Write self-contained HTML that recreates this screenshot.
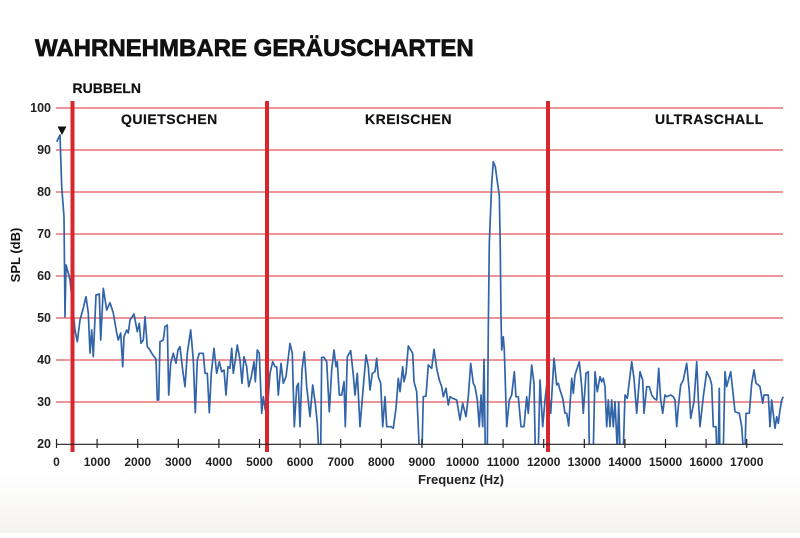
<!DOCTYPE html>
<html><head><meta charset="utf-8"><style>
html,body{margin:0;padding:0;}
body{width:800px;height:533px;overflow:hidden;background:#fff;font-family:"Liberation Sans",sans-serif;}
</style></head><body>
<svg width="800" height="533" viewBox="0 0 800 533" xmlns="http://www.w3.org/2000/svg">
<defs>
<linearGradient id="bg" x1="0" y1="0" x2="0" y2="1">
<stop offset="0" stop-color="#ffffff"/>
<stop offset="1" stop-color="#f5f3f1"/>
</linearGradient>
<clipPath id="clip"><rect x="50" y="100" width="740" height="344.5"/></clipPath>
</defs>
<rect x="0" y="0" width="800" height="533" fill="#fff"/>
<rect x="0" y="475" width="800" height="58" fill="url(#bg)"/>
<text x="35" y="56" font-family="Liberation Sans, sans-serif" font-weight="bold" font-size="24" fill="#111" stroke="#111" stroke-width="0.7">WAHRNEHMBARE GERÄUSCHARTEN</text>
<text x="72.5" y="93" font-weight="bold" font-size="14" fill="#111" stroke="#111" stroke-width="0.2">RUBBELN</text>
<text x="121" y="124" font-weight="bold" font-size="14" letter-spacing="0.5" fill="#111" stroke="#111" stroke-width="0.2">QUIETSCHEN</text>
<text x="365" y="124" font-weight="bold" font-size="14" letter-spacing="0.5" fill="#111" stroke="#111" stroke-width="0.2">KREISCHEN</text>
<text x="655" y="124" font-weight="bold" font-size="14" letter-spacing="0.5" fill="#111" stroke="#111" stroke-width="0.2">ULTRASCHALL</text>
<g stroke="#e0585c" stroke-width="1.2">
<line x1="56" y1="108" x2="783" y2="108"/>
<line x1="56" y1="150" x2="783" y2="150"/>
<line x1="56" y1="192" x2="783" y2="192"/>
<line x1="56" y1="234" x2="783" y2="234"/>
<line x1="56" y1="276" x2="783" y2="276"/>
<line x1="56" y1="318" x2="783" y2="318"/>
<line x1="56" y1="360" x2="783" y2="360"/>
<line x1="56" y1="402" x2="783" y2="402"/>
</g>
<g font-weight="bold" font-size="12.5" fill="#222" text-anchor="end">
<text x="51" y="112">100</text>
<text x="51" y="154">90</text>
<text x="51" y="196">80</text>
<text x="51" y="238">70</text>
<text x="51" y="280">60</text>
<text x="51" y="322">50</text>
<text x="51" y="364">40</text>
<text x="51" y="406">30</text>
<text x="51" y="448">20</text>
</g>
<text transform="translate(20,255) rotate(-90)" text-anchor="middle" font-weight="bold" font-size="13" fill="#111">SPL (dB)</text>
<polyline clip-path="url(#clip)" fill="none" stroke="#3264a8" stroke-width="1.7" stroke-linejoin="round" points="
56.7,141.7 60,135 61.7,186.7 64,216.7 65,316.7 66,265 68.3,273 70,280 72.7,306.7 75,330 77.3,341.7 80,320 83.3,308 86,296.7 88.3,313 90,353 91.7,330 93.3,356.7 96,295 99.3,294 100.7,340 103.3,288.3 106.7,310 110,302.7 113.3,313 116.7,333 118.3,340 120.7,333 122.7,366.7 124,336.7 126.7,330 128.3,333 130,320 134,314 137.3,331.7 139.3,323.3 141,343.3 143.3,340 145,316.7 147.3,346.7 150,350 151.7,353.3 156,359.3 157.3,400 158.7,400 160,341.7 163.3,340 165,326.7 167.3,325 168.7,395 170.7,363.3 173.3,353.3 176,363.3 178,350 180,346.7 182.7,370 185,386.7 187.3,353.3 190.7,330 193.3,360 195.3,412.7 197.3,360 199.3,353.3 203.3,353.3 205,373.3 207.3,373.3 209.3,412.7 211.3,373.3 214,348.3 216.7,373.3 219.3,361.7 221.7,371.7 224,370 226,395 228,366.7 230,368.3 231.7,348.3 233.3,373.3 235.3,360 237.3,345 240,360 242,383.3 244,356.7 246.7,366.7 248.7,386.7 251.3,376.7 254,361.7 255.3,381.7 257.3,350 259.3,353.3 261.7,413.3 263.3,396.7 265.3,410 267.3,410 270,373.3 272.7,361.7 275,366.7 276.7,366.7 278.3,395 281,363.3 283.3,383.3 286,376.7 290,343.3 292.3,353.3 294.3,426.7 296.7,386.7 298.3,383.3 300,426.7 302,370 304.3,351.7 306.7,386.7 310,416.7 312.7,385 315.3,403.3 317.3,423.3 318.7,450 320.7,450 321.7,357.3 324,357.3 326.7,361.7 329.3,411.7 331.7,370 334,350 336,366.7 337.3,361.7 339.3,395 341.7,395 344,381.7 345.3,426.7 347.3,356.7 350.7,350.7 353.3,375 355,395 357.3,373.3 360,426.7 363.3,386.7 366,355 368.3,366.7 370,390 372.3,373.3 375,371.7 376.7,358.3 378.3,376.7 380.7,383.3 382.7,426.7 385,396.7 386.7,426.7 391,426.7 393.3,428.3 396,408.3 398.3,378.3 400,391.7 402.7,366.7 404,381.7 406,373.3 408.3,346 412.7,353.3 414,381.7 416.7,391.7 419.3,450 422,450 423.3,396.7 426,396 428.3,365 431.7,368.3 434,349.3 436.7,368.3 439.3,380 441.7,386.7 443.3,396.7 446,388.3 448.3,405 450,396.7 452.7,398.3 456.7,400 460,420 462.7,403.3 466,416.7 468.3,396.7 470.7,363.3 473.3,383.3 475,386.7 477.3,400 479.3,426.7 481,395 482.7,426.7 484,359.3 485.3,450 487.3,450 488.3,330 489.3,243.3 491.7,183.3 493.3,161.7 495.3,166.7 497.3,181.7 499.3,195 500.3,250 501,316.7 501.7,350 503.3,336.7 504.3,350 506.7,426.7 509.3,400 511.7,395 514.3,371.7 516,396.7 518.3,396.7 521,426.7 524,426.7 526.7,396.7 528.3,413.3 531.7,365 534,383.3 535.3,450 538.3,450 540,380 542.7,426.7 545,400 547.3,380 550.7,413.3 554,358.3 556.7,385 558.3,383.3 560,390 562.7,398.3 565,413.3 566.7,413.3 568.7,426 571.7,378.3 573.3,393.3 575,375 579.3,361.7 581.7,386.7 583.3,413.3 586,373.3 588.3,371.7 589.3,450 593.3,450 595,371.7 597.3,391.7 600,376.7 601.7,381.7 603.3,378.3 605,386.7 606.7,426.7 608.3,400 610,426.7 611.7,400 613.3,426.7 615,401.7 617.3,450 618.7,401.7 620,450 623.3,450 625,395 627.3,398.3 631.7,361.7 634,378.3 636.7,413.3 640,371.7 642.7,380 644,413.3 646.7,386.7 649.3,386.7 651.7,395 654,398.3 656.7,400 658.7,368.3 660.7,400 662.7,413.3 665,395 666.7,396.7 670.7,395 673.3,396.7 675,400 676.7,426.7 678.3,406.7 680.7,385 683.3,380 686.7,363.3 689.3,391.7 690.7,418.3 694,401.7 696.7,361.7 698.3,398.3 700,426.7 703.3,396.7 706.7,371.7 710,378.3 711.7,385 713.3,426.7 716,426.7 716.7,450 718.3,450 719.3,388.3 719.8,450 721.7,450 723.3,450 725,371.7 726.7,386.7 730.7,371.7 732.7,390 735,411.7 739.3,413.3 741.7,426.7 743.3,450 745,450 746,413.3 749.3,413.3 751.7,383.3 754,370 756,383.3 758.3,385 760,386.7 762.7,403.3 764,395 766.7,395 768.3,395 770,426.7 771.7,400 775,428.3 776.7,416.7 778.3,423.3 780,410 781.7,400 783.3,396.7"/>
<polygon points="57.5,126.5 66.5,126.5 62,135" fill="#111"/>
<g stroke="#d7262e" stroke-width="4">
<line x1="72.5" y1="101" x2="72.5" y2="452"/>
<line x1="267" y1="101" x2="267" y2="452"/>
<line x1="548" y1="101" x2="548" y2="452"/>
</g>
<line x1="56" y1="444.3" x2="783" y2="444.3" stroke="#222" stroke-width="1.2"/>
<g stroke="#222" stroke-width="1.2">
<line x1="56.5" y1="439" x2="56.5" y2="448"/>
<line x1="97.1" y1="439" x2="97.1" y2="448"/>
<line x1="137.7" y1="439" x2="137.7" y2="448"/>
<line x1="178.3" y1="439" x2="178.3" y2="448"/>
<line x1="218.9" y1="439" x2="218.9" y2="448"/>
<line x1="259.5" y1="439" x2="259.5" y2="448"/>
<line x1="300.1" y1="439" x2="300.1" y2="448"/>
<line x1="340.7" y1="439" x2="340.7" y2="448"/>
<line x1="381.3" y1="439" x2="381.3" y2="448"/>
<line x1="421.9" y1="439" x2="421.9" y2="448"/>
<line x1="462.5" y1="439" x2="462.5" y2="448"/>
<line x1="503.1" y1="439" x2="503.1" y2="448"/>
<line x1="543.7" y1="439" x2="543.7" y2="448"/>
<line x1="584.3" y1="439" x2="584.3" y2="448"/>
<line x1="624.9" y1="439" x2="624.9" y2="448"/>
<line x1="665.5" y1="439" x2="665.5" y2="448"/>
<line x1="706.1" y1="439" x2="706.1" y2="448"/>
<line x1="746.7" y1="439" x2="746.7" y2="448"/>
</g>
<g font-weight="bold" font-size="12" fill="#222" text-anchor="middle">
<text x="56.5" y="466">0</text>
<text x="97.1" y="466">1000</text>
<text x="137.7" y="466">2000</text>
<text x="178.3" y="466">3000</text>
<text x="218.9" y="466">4000</text>
<text x="259.5" y="466">5000</text>
<text x="300.1" y="466">6000</text>
<text x="340.7" y="466">7000</text>
<text x="381.3" y="466">8000</text>
<text x="421.9" y="466">9000</text>
<text x="462.5" y="466">10000</text>
<text x="503.1" y="466">11000</text>
<text x="543.7" y="466">12000</text>
<text x="584.3" y="466">13000</text>
<text x="624.9" y="466">14000</text>
<text x="665.5" y="466">15000</text>
<text x="706.1" y="466">16000</text>
<text x="746.7" y="466">17000</text>
</g>
<text x="418" y="484" font-weight="bold" font-size="13" fill="#222">Frequenz (Hz)</text>
</svg>
</body></html>
